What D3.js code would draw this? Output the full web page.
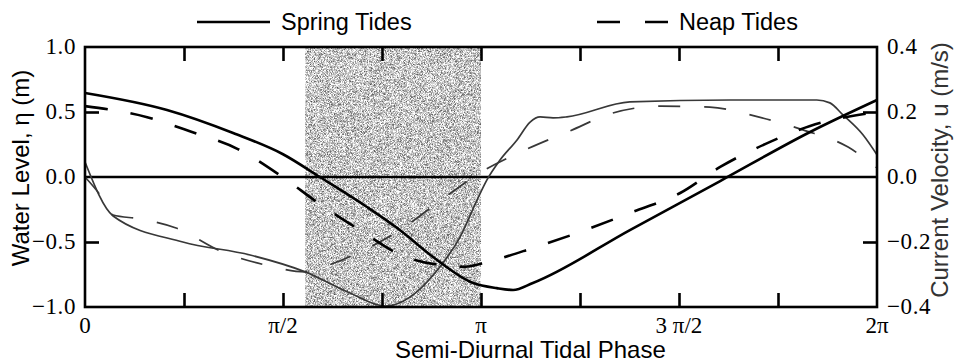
<!DOCTYPE html>
<html>
<head>
<meta charset="utf-8">
<script src="https://cdn.jsdelivr.net/npm/d3@7/dist/d3.min.js"></script>
<style>
  html, body { margin: 0; padding: 0; background: #fff; }
  svg { display: block; }
</style>
</head>
<body>
<script>
// Phase values are in units of π (0 … 2 → 0 … 2π).
// Water level η (m), left axis
const springEtaPhase = [0, 0.207, 0.374, 0.5, 0.593, 0.712, 0.795, 0.879, 0.98, 1.04, 1.081, 1.131, 1.376, 1.604, 1.831, 2.0];
const springEta      = [0.646, 0.515, 0.338, 0.175, 0.0, -0.231, -0.408, -0.615, -0.815, -0.855, -0.869, -0.815, -0.408, -0.031, 0.346, 0.592];

const neapEtaPhase = [0, 0.157, 0.27, 0.386, 0.495, 0.593, 0.694, 0.798, 0.922, 0.96, 1.015, 1.131, 1.25, 1.376, 1.503, 1.604, 1.73, 1.831, 2.0];
const neapEta      = [0.545, 0.46, 0.346, 0.215, 0.008, -0.208, -0.408, -0.6, -0.685, -0.69, -0.654, -0.546, -0.423, -0.277, -0.123, 0.077, 0.27, 0.392, 0.5];

// Current velocity u (m/s), right axis
const springUPhase = [0, 0.071, 0.247, 0.417, 0.556, 0.669, 0.758, 0.778, 0.896, 0.947, 0.99, 1.015, 1.048, 1.091, 1.124, 1.149, 1.182, 1.217, 1.376, 1.629, 1.848, 1.881, 1.914, 1.965, 2.0];
const springU      = [0.046, -0.12, -0.2, -0.24, -0.292, -0.357, -0.397, -0.394, -0.277, -0.185, -0.071, -0.009, 0.052, 0.114, 0.169, 0.185, 0.182, 0.185, 0.231, 0.237, 0.237, 0.228, 0.191, 0.129, 0.068];

const neapUPhase = [0, 0.038, 0.071, 0.139, 0.23, 0.348, 0.457, 0.556, 0.593, 0.694, 0.803, 0.899, 1.01, 1.111, 1.225, 1.333, 1.455, 1.578, 1.7, 1.813, 1.927, 2.0];
const neapU      = [0.0, -0.055, -0.117, -0.129, -0.157, -0.231, -0.271, -0.292, -0.28, -0.231, -0.157, -0.071, 0.022, 0.083, 0.142, 0.197, 0.218, 0.215, 0.185, 0.145, 0.092, 0.028];

// Shaded phase window (units of π)
const shadeWindow = [0.556, 1.0];

// Axis ticks
const phaseTicks = [0.25, 0.5, 0.75, 1, 1.25, 1.5, 1.75];
const phaseLabelValues = [0, 0.5, 1, 1.5, 2];
const phaseLabels = ["0", "π/2", "π", "3 π/2", "2π"];
const etaLabelValues = [1.0, 0.5, 0.0, -0.5, -1.0];
const etaLabels = ["1.0", "0.5", "0.0", "\u22120.5", "\u22121.0"];
const uLabelValues = [0.4, 0.2, 0.0, -0.2, -0.4];
const uLabels = ["0.4", "0.2", "0.0", "\u22120.2", "\u22120.4"];
const etaTickValues = [0.5, -0.5];
const uTickValues = [0.2, -0.2];

const legendNames = ["Spring Tides", "Neap Tides"];

const W = 965, H = 364;
const L = 85, R = 877, T = 47, B = 307;

const svg = d3.select("body").append("svg").attr("width", W).attr("height", H);

const x = d3.scaleLinear().domain([0, 2]).range([L, R]);
const yEta = d3.scaleLinear().domain([-1, 1]).range([B, T]);
const yU = d3.scaleLinear().domain([-0.4, 0.4]).range([B, T]);

// fine grain texture for the shaded window
const defs = svg.append("defs");
const f = defs.append("filter").attr("id", "grain")
  .attr("x", 0).attr("y", 0).attr("width", 1).attr("height", 1)
  .attr("color-interpolation-filters", "sRGB");
f.append("feTurbulence").attr("type", "fractalNoise").attr("baseFrequency", 2.7)
  .attr("numOctaves", 1).attr("seed", 11).attr("result", "n");
f.append("feColorMatrix").attr("in", "n").attr("type", "matrix")
  .attr("values", "1.6 0 0 0 -0.02  1.6 0 0 0 -0.02  1.6 0 0 0 -0.02  0 0 0 0 1")
  .attr("result", "g");
f.append("feComposite").attr("in", "g").attr("in2", "SourceGraphic").attr("operator", "in");

svg.append("rect")
  .attr("x", x(shadeWindow[0])).attr("y", T)
  .attr("width", x(shadeWindow[1]) - x(shadeWindow[0])).attr("height", B - T)
  .attr("fill", "#b0b0b0")
  .attr("filter", "url(#grain)");

// zero line
svg.append("line").attr("x1", L).attr("x2", R).attr("y1", yEta(0)).attr("y2", yEta(0))
  .attr("stroke", "#000").attr("stroke-width", 2.4);

const curve = d3.curveMonotoneX;
function drawSeries(ph, vals, yScale, style) {
  const pts = ph.map((p, i) => [p, vals[i]]);
  const line = d3.line().x(d => x(d[0])).y(d => yScale(d[1])).curve(curve);
  svg.append("path").datum(pts).attr("d", line)
    .attr("fill", "none")
    .attr("stroke", style.color)
    .attr("stroke-width", style.width)
    .attr("stroke-dasharray", style.dash || null)
    .attr("stroke-linejoin", "round");
}

// velocity (thin gray) under water level (thick black)
drawSeries(springUPhase, springU, yU, { color: "#383838", width: 1.7 });
drawSeries(neapUPhase, neapU, yU, { color: "#383838", width: 1.7, dash: "22,24" });
drawSeries(springEtaPhase, springEta, yEta, { color: "#000", width: 2.6 });
drawSeries(neapEtaPhase, neapEta, yEta, { color: "#000", width: 2.6, dash: "23,23" });

// frame
svg.append("rect").attr("x", L).attr("y", T).attr("width", R - L).attr("height", B - T)
  .attr("fill", "none").attr("stroke", "#000").attr("stroke-width", 2.6);

// inward ticks, top and bottom
const tickLen = 14;
const xBottom = d3.axisBottom(x).tickValues(phaseTicks).tickSizeInner(-tickLen).tickSizeOuter(0).tickFormat("");
const xTop = d3.axisTop(x).tickValues(phaseTicks).tickSizeInner(-tickLen).tickSizeOuter(0).tickFormat("");
const yLeft = d3.axisLeft(yEta).tickValues(etaTickValues).tickSizeInner(-tickLen).tickSizeOuter(0).tickFormat("");
const yRight = d3.axisRight(yU).tickValues(uTickValues).tickSizeInner(-tickLen).tickSizeOuter(0).tickFormat("");
[[xBottom, `translate(0,${B})`], [xTop, `translate(0,${T})`], [yLeft, `translate(${L},0)`], [yRight, `translate(${R},0)`]]
  .forEach(([ax, tr]) => {
    const g = svg.append("g").attr("transform", tr).call(ax);
    g.select(".domain").remove();
    g.selectAll(".tick line").attr("stroke", "#000").attr("stroke-width", 2.6);
  });

// tick labels
const serif = "'Liberation Serif', 'Times New Roman', serif";
svg.append("g").selectAll("text").data(etaLabelValues).join("text")
  .attr("x", 76).attr("y", d => yEta(d) + 7)
  .attr("text-anchor", "end").attr("font-family", serif).attr("font-size", 23)
  .attr("letter-spacing", 0.6)
  .text((d, i) => etaLabels[i]);
svg.append("g").selectAll("text").data(uLabelValues).join("text")
  .attr("x", 887).attr("y", d => yU(d) + 7)
  .attr("text-anchor", "start").attr("font-family", serif).attr("font-size", 23)
  .attr("letter-spacing", 0.6)
  .text((d, i) => uLabels[i]);
svg.append("g").selectAll("text").data(phaseLabelValues).join("text")
  .attr("x", d => x(d)).attr("y", 333)
  .attr("text-anchor", "middle").attr("font-family", serif).attr("font-size", 23)
  .text((d, i) => phaseLabels[i]);

// axis titles
const sans = "'Liberation Sans', Arial, Helvetica, sans-serif";
svg.append("text").attr("x", 395).attr("y", 358)
  .attr("font-family", sans).attr("font-size", 24).text("Semi-Diurnal Tidal Phase");
svg.append("text").attr("transform", "translate(29,168) rotate(-90)")
  .attr("text-anchor", "middle").attr("font-family", sans).attr("font-size", 24)
  .text("Water Level, \u03b7 (m)");
svg.append("text").attr("transform", "translate(948,170) rotate(-90)")
  .attr("text-anchor", "middle").attr("font-family", sans).attr("font-size", 24)
  .attr("fill", "#333")
  .text("Current Velocity, u (m/s)");

// legend
const ly = 22;
svg.append("line").attr("x1", 197).attr("x2", 270).attr("y1", ly).attr("y2", ly)
  .attr("stroke", "#000").attr("stroke-width", 2.6);
svg.append("text").attr("x", 281).attr("y", 30).attr("font-family", sans).attr("font-size", 23.5)
  .text(legendNames[0]);
svg.append("line").attr("x1", 597).attr("x2", 668).attr("y1", ly).attr("y2", ly)
  .attr("stroke", "#000").attr("stroke-width", 2.6).attr("stroke-dasharray", "23,25");
svg.append("text").attr("x", 679).attr("y", 30).attr("font-family", sans).attr("font-size", 23.5)
  .text(legendNames[1]);
</script>
</body>
</html>
